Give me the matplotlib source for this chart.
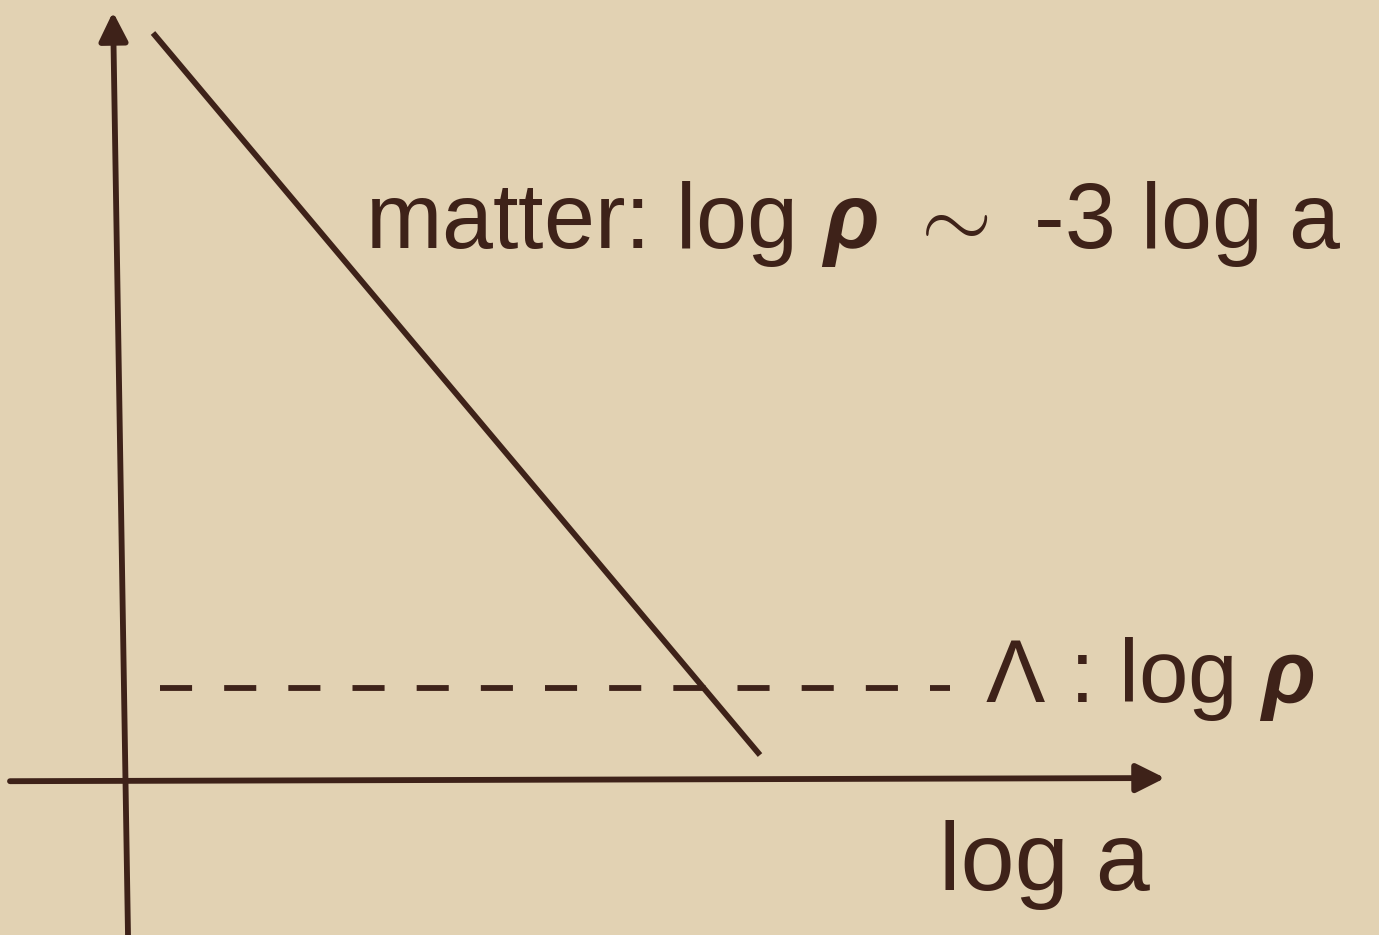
import matplotlib
matplotlib.use("Agg")
import matplotlib.pyplot as plt

# Schematic: energy density vs scale factor (log-log)
matter_log_a = [0.28, 6.35]
matter_log_rho = [18.84, 0.63]
lambda_log_a = [0.35, 8.25]
lambda_log_rho = [2.32, 2.32]

x_axis_span = [-1.15, 10.40]
y_axis_span = [-3.91, 19.37]

matter_label = r"matter: log $\rho$ $\sim$ -3 log a"
lambda_label = r"$\Lambda$ : log $\rho$"
x_label = "log a"

ink = "#3e2219"
paper = "#e2d2b3"
fam = "Liberation Sans"

plt.rcParams["mathtext.fontset"] = "custom"
plt.rcParams["mathtext.rm"] = fam
plt.rcParams["mathtext.it"] = fam + ":italic:bold"
plt.rcParams["mathtext.bf"] = fam + ":bold"

fig = plt.figure(figsize=(13.79, 9.35), dpi=100)
fig.patch.set_facecolor(paper)
ax = fig.add_axes([0, 0, 1, 1])
ax.set_facecolor(paper)
ax.set_xlim(-1.25, 12.54)
ax.set_ylim(-3.909, 19.672)
ax.axis("off")

arrow = dict(arrowstyle="-|>,head_length=0.7,head_width=0.35",
             mutation_scale=25, lw=4.2, color=ink, shrinkA=0, shrinkB=0)
ax.annotate("", xy=(x_axis_span[1], 0.05), xytext=(x_axis_span[0], -0.03),
            arrowprops=arrow)
ax.annotate("", xy=(-0.12, y_axis_span[1]), xytext=(0.03, y_axis_span[0]),
            arrowprops=arrow)

ax.plot(matter_log_a, matter_log_rho, color=ink, lw=4.2,
        solid_capstyle="butt")
ax.plot(lambda_log_a, lambda_log_rho, color=ink, lw=4.2,
        dashes=(5.5, 5.5), dash_capstyle="butt")

ax.text(2.40, 13.42, matter_label, fontsize=66, color=ink,
        family=fam, va="baseline", ha="left")
ax.text(8.60, 1.97, lambda_label, fontsize=64, color=ink,
        family=fam, va="baseline", ha="left")
ax.text(8.14, -2.77, x_label, fontsize=70, color=ink,
        family=fam, va="baseline", ha="left")

fig.savefig("out.png", dpi=100, facecolor=paper)
